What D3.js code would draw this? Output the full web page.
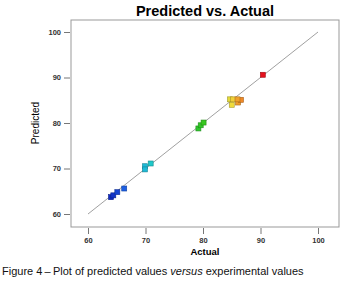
<!DOCTYPE html>
<html>
<head>
<meta charset="utf-8">
<script src="https://cdn.jsdelivr.net/npm/d3@7"></script>
<style>
  body { margin: 0; background: #fff; }
  svg { font-family: "Liberation Sans", Arial, sans-serif; }
</style>
</head>
<body>
<svg id="chart" width="350" height="282"></svg>
<script>
// values
var actual    = [64.0, 64.4, 65.1, 66.3, 69.9, 69.9, 70.9, 79.2, 79.6, 80.1, 84.7, 85.2, 85.0, 86.1, 86.6, 86.0, 90.4];
var predicted = [63.7, 64.1, 64.8, 65.6, 70.5, 69.8, 71.1, 78.8, 79.5, 80.1, 85.2, 85.2, 84.0, 84.5, 85.1, 85.2, 90.6];
var xTicks = [60, 70, 80, 90, 100];
var yTicks = [60, 70, 80, 90, 100];

var svg = d3.select("#chart");

var frame = {left: 71, top: 20, right: 339, bottom: 227};

var x = d3.scaleLinear().domain([60, 100]).range([88, 318]);
var y = d3.scaleLinear().domain([60, 100]).range([214, 32]);

// Design-Expert style gradient: blue -> cyan -> green -> yellow -> red
var colour = d3.scaleLinear()
    .domain([63, 66.5, 70.5, 80, 85, 86.2, 90])
    .range(["#0a14b4", "#1e64e6", "#1ec8d2", "#32c81e", "#f0dc3c", "#f09628", "#e61e1e"]);

// frame
svg.append("rect")
    .attr("x", frame.left).attr("y", frame.top)
    .attr("width", frame.right - frame.left)
    .attr("height", frame.bottom - frame.top)
    .attr("fill", "none")
    .attr("stroke", "#999")
    .attr("stroke-width", 1);

// axes
var yAxis = svg.append("g")
    .attr("transform", "translate(" + (frame.left - 1) + ",0)")
    .call(d3.axisLeft(y).tickValues(yTicks).tickSize(6).tickPadding(3));
var xAxis = svg.append("g")
    .attr("transform", "translate(0," + (frame.bottom + 1) + ")")
    .call(d3.axisBottom(x).tickValues(xTicks).tickSize(6).tickPadding(4));

[xAxis, yAxis].forEach(function(ax) {
    ax.select(".domain").remove();
    ax.selectAll("line").attr("stroke", "#777");
    ax.selectAll("text")
        .attr("font-size", 7.5)
        .attr("font-weight", "bold")
        .attr("fill", "#333")
        .attr("font-family", "Liberation Sans, Arial, sans-serif");
});

// 45 degree line
svg.append("line")
    .attr("x1", x(60)).attr("y1", y(60))
    .attr("x2", x(100)).attr("y2", y(100))
    .attr("stroke", "#777")
    .attr("stroke-width", 0.7);

// points, coloured by actual value
var s = 5;
svg.selectAll(".pt")
    .data(actual)
    .enter()
    .append("rect")
    .attr("class", "pt")
    .attr("x", function(d) { return x(d) - s / 2; })
    .attr("y", function(d, i) { return y(predicted[i]) - s / 2; })
    .attr("width", s)
    .attr("height", s)
    .attr("fill", function(d) { return colour(d); })
    .attr("stroke", function(d) { return d3.color(colour(d)).darker(1); })
    .attr("stroke-width", 0.6);

// title
svg.append("text")
    .attr("x", 205).attr("y", 16)
    .attr("text-anchor", "middle")
    .attr("font-size", 14.5)
    .attr("font-weight", "bold")
    .text("Predicted vs. Actual");

// axis titles
svg.append("text")
    .attr("x", 205).attr("y", 255)
    .attr("text-anchor", "middle")
    .attr("font-size", 9.5)
    .attr("font-weight", "bold")
    .text("Actual");

svg.append("text")
    .attr("transform", "translate(39,123) rotate(-90)")
    .attr("text-anchor", "middle")
    .attr("font-size", 10)
    .text("Predicted");

// caption
var cap = svg.append("text")
    .attr("x", 2).attr("y", 275)
    .attr("font-size", 11)
    .attr("fill", "#111");
cap.append("tspan").text("Figure 4\u2009\u2013\u2009Plot of predicted values ");
cap.append("tspan").attr("font-style", "italic").text("versus");
cap.append("tspan").text(" experimental values");
</script>
</body>
</html>
